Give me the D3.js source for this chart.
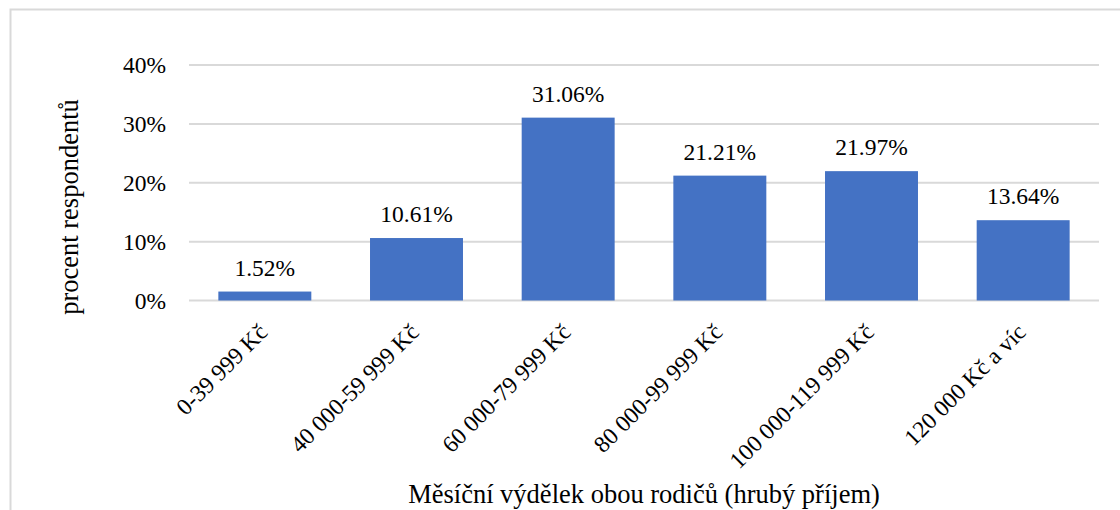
<!DOCTYPE html>
<html>
<head>
<meta charset="utf-8">
<script src="https://cdn.jsdelivr.net/npm/d3@7"></script>
<style>
  html, body { margin: 0; padding: 0; background: #fff; }
</style>
</head>
<body>
<svg id="chart" width="1120" height="510"></svg>
<script>
const categories = ["0-39 999 Kč", "40 000-59 999 Kč", "60 000-79 999 Kč", "80 000-99 999 Kč", "100 000-119 999 Kč", "120 000 Kč a víc"];
const values = [1.52, 10.61, 31.06, 21.21, 21.97, 13.64];
const yTicks = [0, 10, 20, 30, 40];
const yTitle = "procent respondentů";
const xTitle = "Měsíční výdělek obou rodičů (hrubý příjem)";

const FONT = "Liberation Serif";
const svg = d3.select("#chart");
const plotLeft = 189, plotRight = 1099, plotTop = 65, plotBottom = 300.5;

// frame
svg.append("rect")
  .attr("x", 10.5).attr("y", 9.5).attr("width", 1200).attr("height", 600)
  .attr("fill", "none").attr("stroke", "#d9d9d9").attr("stroke-width", 2);

const x = d3.scaleBand().domain(categories).range([plotLeft, plotRight]).paddingInner(0.387).paddingOuter(0.1935);
const y = d3.scaleLinear().domain([0, 40]).range([plotBottom, plotTop]);

// gridlines
svg.append("g").selectAll("line").data(yTicks).join("line")
  .attr("x1", plotLeft).attr("x2", plotRight)
  .attr("y1", d => y(d)).attr("y2", d => y(d))
  .attr("stroke", "#d9d9d9").attr("stroke-width", 2);

// y axis labels
const yAxis = d3.axisLeft(y).tickValues(yTicks).tickFormat(d => d + "%").tickSize(0).tickPadding(0);
const gy = svg.append("g").attr("transform", `translate(166,0)`).call(yAxis);
gy.select(".domain").remove();
gy.selectAll("text").style("font-family", FONT).style("font-size", "23.5px").attr("fill", "#000");

// bars
svg.append("g").selectAll("rect").data(values).join("rect")
  .attr("x", (d, i) => x(categories[i]))
  .attr("width", x.bandwidth())
  .attr("y", d => y(d))
  .attr("height", d => y(0) - y(d))
  .attr("fill", "#4472C4");

// value labels
svg.append("g").selectAll("text").data(values).join("text")
  .attr("x", (d, i) => x(categories[i]) + x.bandwidth() / 2)
  .attr("y", d => y(d) - 16)
  .attr("text-anchor", "middle")
  .style("font-family", FONT).style("font-size", "23.5px")
  .attr("fill", "#000")
  .text(d => d.toFixed(2) + "%");

// x axis labels
const xAxis = d3.axisBottom(x).tickSize(0).tickPadding(0);
const gx = svg.append("g").attr("transform", `translate(0,${plotBottom})`).call(xAxis);
gx.select(".domain").remove();
gx.selectAll("text")
  .style("font-family", FONT).style("font-size", "23.5px").attr("fill", "#000")
  .attr("text-anchor", "end")
  .attr("dy", 0).attr("y", 0)
  .attr("transform", "translate(4,33) rotate(-45)");

// y title
svg.append("text")
  .attr("transform", "translate(78,207) rotate(-90)")
  .attr("text-anchor", "middle")
  .style("font-family", FONT).style("font-size", "26.5px")
  .attr("fill", "#000")
  .text(yTitle);

// x title
svg.append("text")
  .attr("x", (plotLeft + plotRight) / 2)
  .attr("y", 503)
  .attr("text-anchor", "middle")
  .style("font-family", FONT).style("font-size", "26.5px")
  .attr("fill", "#000")
  .text(xTitle);
</script>
</body>
</html>
